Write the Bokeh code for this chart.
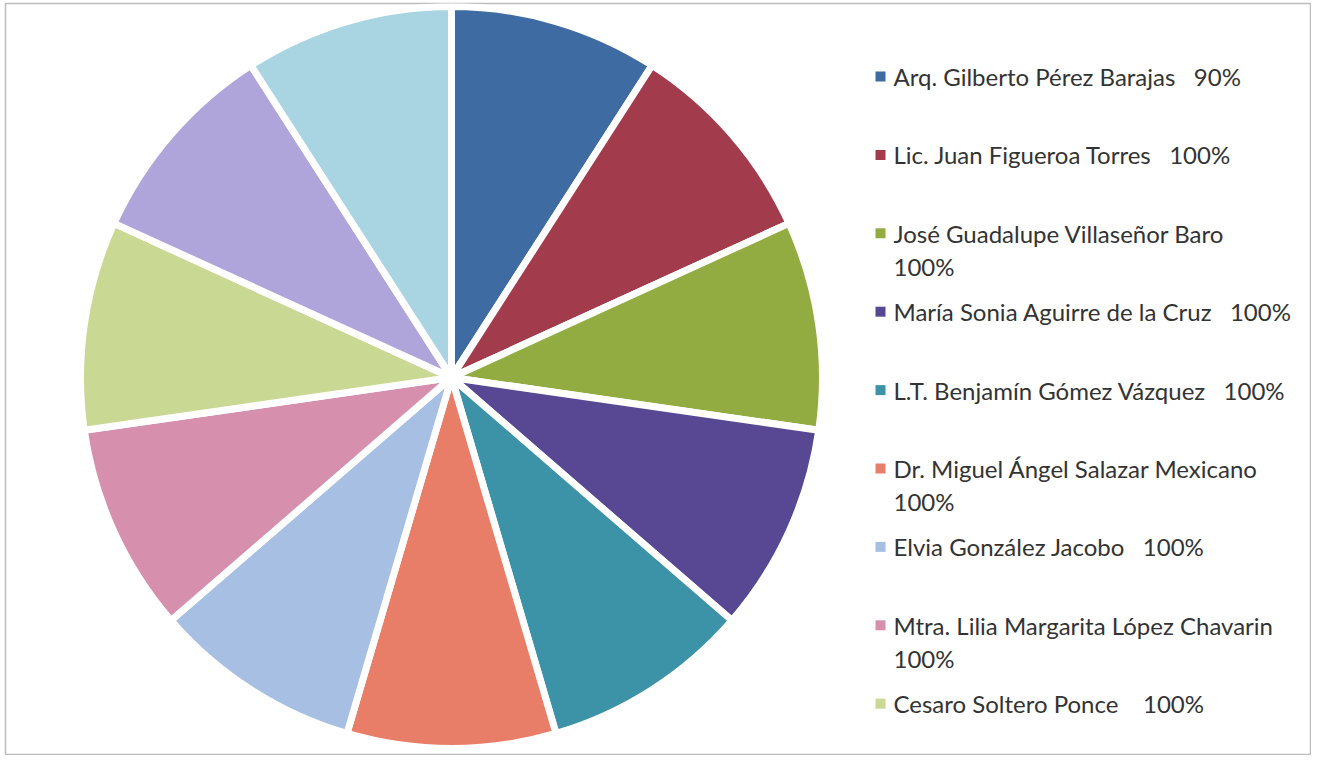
import numpy as np
from bokeh.plotting import figure
from bokeh.models import ColumnDataSource, Range1d
from bokeh.core.properties import value
from bokeh.embed import file_html
from bokeh.resources import INLINE

# ---- data ----
# Pie slices, clockwise from 12 o'clock; all slices are drawn the same size
slice_share = [1, 1, 1, 1, 1, 1, 1, 1, 1, 1, 1]
slice_colors = ["#3D6BA2", "#A23C4C", "#93AC42", "#584893", "#3C93A8", "#E97E68",
                "#A6BFE3", "#D690AE", "#C9D892", "#B0A5DA", "#A9D5E2"]

# Legend (only the first nine entries are visible in the original)
legend_labels = [
    "Arq. Gilberto Pérez Barajas\u00a0\u00a0\u00a090%",
    "Lic. Juan Figueroa Torres\u00a0\u00a0\u00a0100%",
    "José Guadalupe Villaseñor Baro\n100%",
    "María Sonia Aguirre de la Cruz\u00a0\u00a0\u00a0100%",
    "L.T. Benjamín Gómez Vázquez\u00a0\u00a0\u00a0100%",
    "Dr. Miguel Ángel Salazar Mexicano\n100%",
    "Elvia González Jacobo\u00a0\u00a0\u00a0100%",
    "Mtra. Lilia Margarita López Chavarin\n100%",
    "Cesaro Soltero Ponce\u00a0\u00a0\u00a0\u00a0100%",
]

# ---- layout ----
FW, FH = 1306, 752
p = figure(frame_width=FW, frame_height=FH, x_range=Range1d(0, FW), y_range=Range1d(0, FH),
           output_backend="svg", toolbar_location=None,
           min_border_left=5, min_border_top=3, min_border_right=0, min_border_bottom=0,
           x_axis_location=None, y_axis_location=None)
p.grid.visible = False
p.outline_line_color = "#bdbdbd"
p.outline_line_width = 1.5
p.background_fill_color = "white"
p.border_fill_color = "white"

TOP = 755  # page y of the frame's bottom edge -> data y = TOP - page_y

share = np.array(slice_share, dtype=float)
frac = share / share.sum() * 2 * np.pi
cum_after = np.cumsum(frac)
cum_before = cum_after - frac
src = ColumnDataSource(dict(
    start=np.pi / 2 - cum_after,
    end=np.pi / 2 - cum_before,
    color=slice_colors,
))
cx, cy, r = 446, TOP - 377, 371
p.wedge(x=cx, y=cy, radius=r, start_angle="start", end_angle="end",
        fill_color="color", line_color="white", line_width=7, source=src)

n = len(legend_labels)
ys = [TOP - (76 + 78.4 * i) for i in range(n)]
first = [t.split("\n")[0] for t in legend_labels]
second_txt = [t.split("\n")[1] for t in legend_labels if "\n" in t]
second_y = [ys[i] - 33 for i, t in enumerate(legend_labels) if "\n" in t]

leg = ColumnDataSource(dict(y=ys, text=first, color=slice_colors[:n]))
leg2 = ColumnDataSource(dict(y=second_y, text=second_txt))
p.scatter(x=875, y="y", marker="square", size=10, fill_color="color",
          line_color=None, source=leg)
common = dict(x=888, y="y", text="text", text_font=value("Lato"),
              text_font_size="24px", text_color="#333333", text_baseline="middle")
p.text(source=leg, **common)
p.text(source=leg2, **common)

open("out.html", "w").write(file_html(p, INLINE))
